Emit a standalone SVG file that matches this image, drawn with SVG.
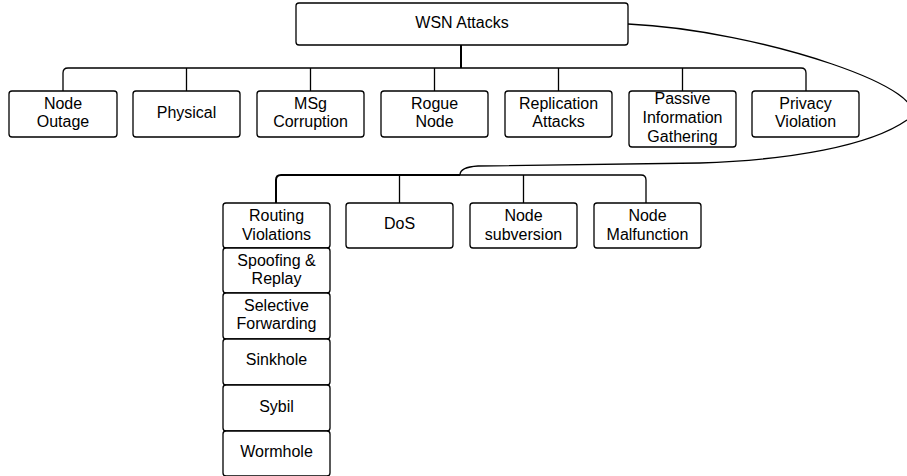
<svg xmlns="http://www.w3.org/2000/svg" width="907" height="476" viewBox="0 0 907 476">
<style>
.box{fill:#fff;stroke:#000;stroke-width:1.3}
.t{font-family:"Liberation Sans",Arial,sans-serif;font-size:16px;fill:#000;text-anchor:middle}
.c{fill:none;stroke:#000;stroke-width:1.3}
.ct{fill:none;stroke:#000;stroke-width:2}
</style>
<rect width="907" height="476" fill="#fff"/>
<g id="connectors">
<path class="ct" d="M461,45 V68"/>
<path class="c" d="M461,68 H68 Q63,68 63,73 V91"/>
<path class="c" d="M186.5,68 V91 M310.5,68 V91 M434.5,68 V91"/>
<path class="c" d="M461,68 H801 Q806,68 806,73 V91"/>
<path class="c" d="M558.5,68 V91 M682.5,68 V91"/>
<path class="c" d="M628,24 C760,30 945,92 907,120 C870,146 790,160 700,163 L478,166 Q460,167 460,175"/>
<path class="ct" d="M460,175 H281 Q276,175 276,180 V203"/>
<path class="c" d="M460,175 H641 Q646,175 646,180 V203"/>
<path class="c" d="M399.5,175 V203 M523.5,175 V203"/>
</g>
<g id="wsn"><rect class="box" x="296" y="3" width="332" height="42" rx="3"/><text class="t" x="462" y="28">WSN Attacks</text></g>
<g id="node-outage"><rect class="box" x="9" y="91" width="108" height="46" rx="3"/><text class="t" x="63" y="108.5">Node</text><text class="t" x="63" y="127">Outage</text></g>
<g id="physical"><rect class="box" x="133" y="91" width="107" height="46" rx="3"/><text class="t" x="186.5" y="118">Physical</text></g>
<g id="msg-corruption"><rect class="box" x="257" y="91" width="107" height="46" rx="3"/><text class="t" x="310.5" y="108.5">MSg</text><text class="t" x="310.5" y="127">Corruption</text></g>
<g id="rogue-node"><rect class="box" x="381" y="91" width="107" height="46" rx="3"/><text class="t" x="434.5" y="108.5">Rogue</text><text class="t" x="434.5" y="127">Node</text></g>
<g id="replication"><rect class="box" x="505" y="91" width="107" height="46" rx="3"/><text class="t" x="558.5" y="108.5">Replication</text><text class="t" x="558.5" y="127">Attacks</text></g>
<g id="passive"><rect class="box" x="629" y="91" width="107" height="56" rx="3"/><text class="t" x="682.5" y="104">Passive</text><text class="t" x="682.5" y="123">Information</text><text class="t" x="682.5" y="142">Gathering</text></g>
<g id="privacy"><rect class="box" x="752" y="91" width="107" height="46" rx="3"/><text class="t" x="805.5" y="108.5">Privacy</text><text class="t" x="805.5" y="127">Violation</text></g>
<g id="routing"><rect class="box" x="223" y="203" width="107" height="45" rx="3"/><text class="t" x="276.5" y="221">Routing</text><text class="t" x="276.5" y="239.5">Violations</text></g>
<g id="dos"><rect class="box" x="346" y="203" width="107" height="45" rx="3"/><text class="t" x="399.5" y="229">DoS</text></g>
<g id="node-subversion"><rect class="box" x="470" y="203" width="107" height="45" rx="3"/><text class="t" x="523.5" y="221">Node</text><text class="t" x="523.5" y="239.5">subversion</text></g>
<g id="node-malfunction"><rect class="box" x="594" y="203" width="107" height="45" rx="3"/><text class="t" x="647.5" y="221">Node</text><text class="t" x="647.5" y="239.5">Malfunction</text></g>
<g id="spoofing"><rect class="box" x="223" y="248" width="107" height="45" rx="3"/><text class="t" x="276.5" y="265.5">Spoofing &amp;</text><text class="t" x="276.5" y="284">Replay</text></g>
<g id="selective"><rect class="box" x="223" y="293" width="107" height="46" rx="3"/><text class="t" x="276.5" y="310.5">Selective</text><text class="t" x="276.5" y="329">Forwarding</text></g>
<g id="sinkhole"><rect class="box" x="223" y="339" width="107" height="46" rx="3"/><text class="t" x="276.5" y="365">Sinkhole</text></g>
<g id="sybil"><rect class="box" x="223" y="385" width="107" height="46" rx="3"/><text class="t" x="276.5" y="411.5">Sybil</text></g>
<g id="wormhole"><rect class="box" x="223" y="431" width="107" height="45" rx="3"/><text class="t" x="276.5" y="457">Wormhole</text></g>
</svg>
